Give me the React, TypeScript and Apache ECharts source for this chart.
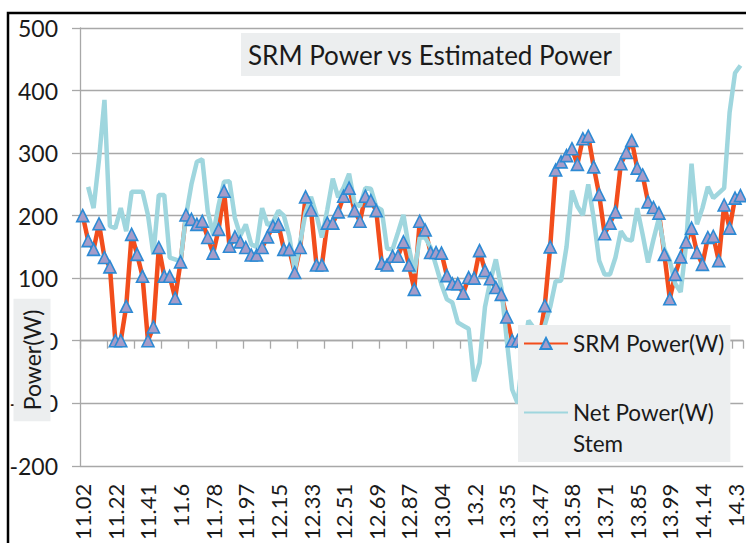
import { useEffect, useRef } from 'react';
import * as echarts from 'echarts';

const tickLabels = [
  '11.02', '11.22', '11.41', '11.6', '11.78', '11.97', '12.15', '12.33', '12.51', '12.69', '12.87',
  '13.04', '13.2', '13.35', '13.47', '13.58', '13.71', '13.85', '13.99', '14.14', '14.3',
];

const srmPower = [
  200, 160, 146, 187, 133, 118, 0, 0, 55, 170,
  138, 103, 0, 22, 149, 103, 103, 68, 126, 201,
  194, 186, 191, 165, 140, 178, 239, 151, 166, 158,
  149, 137, 137, 149, 166, 183, 186, 146, 146, 109,
  149, 230, 209, 121, 121, 188, 188, 206, 231, 244,
  208, 191, 231, 224, 208, 124, 121, 135, 135, 158,
  121, 82, 191, 177, 141, 141, 140, 104, 91, 91,
  76, 101, 100, 144, 112, 99, 85, 74, 38, 0,
  0, 0, 0, 0, 0, 56, 150, 273, 286, 296,
  307, 282, 323, 327, 278, 234, 171, 188, 206, 283,
  301, 320, 276, 265, 222, 213, 204, 138, 67, 106,
  134, 158, 180, 141, 122, 165, 167, 128, 217, 180,
  228, 232,
];

const netPower = [
  null, 246, 212, 290, 385, 183, 180, 212, 175, 238,
  238, 238, 201, 138, 233, 233, 133, 130, 127, 200,
  250, 286, 290, 207, 170, 217, 254, 255, 196, 168,
  186, 154, 150, 212, 185, 190, 208, 200, 167, 112,
  157, 205, 230, 201, 165, 210, 259, 229, 245, 267,
  220, 215, 244, 243, 214, 209, 147, 146, 173, 201,
  149, 108, 165, 165, 149, 120, 90, 66, 61, 29,
  24, 19, -65, -36, 54, 96, 130, 85, 2, -78,
  -100, -20, 32, 20, 10, 25, 54, 95, 96, 150,
  240, 215, 201, 250, 196, 128, 106, 106, 133, 175,
  162, 160, 212, 170, 125, 162, 196, 146, 128, 91,
  78, 154, 283, 186, 212, 246, 228, 236, 244, 365,
  428, 440,
];

const categories = srmPower.map((_, i) => String(i));

const FONT = 'Lato';
const TEXT = '#1a1a1a';
const GRID = '#a8a8a8';
const BOX = '#eceeef';

export default function App() {
  const ref = useRef<HTMLDivElement>(null);

  useEffect(() => {
    const chart = echarts.init(ref.current!, null, { renderer: 'svg' });
    chart.setOption({
      animation: false,
      textStyle: { fontFamily: FONT },
      title: {
        text: 'SRM Power vs Estimated Power',
        left: 241,
        top: 33,
        backgroundColor: BOX,
        padding: [8, 7, 8, 7],
        textStyle: { fontSize: 26, fontWeight: 'normal', color: TEXT, fontFamily: FONT, lineHeight: 27 },
      },
      legend: {
        orient: 'vertical',
        left: 518,
        top: 325,
        backgroundColor: BOX,
        padding: [3, 6, 3, 5],
        itemWidth: 44,
        itemHeight: 14,
        itemGap: 7,
        textStyle: { fontSize: 22.5, lineHeight: 31, color: TEXT, fontFamily: FONT },
        formatter: (name: string) => (name.indexOf(' Stem') >= 0 ? '\n' + name.replace(' Stem', '\nStem') : name),
        data: [
          { name: 'SRM Power(W)' },
          { name: 'Net Power(W) Stem', itemStyle: { opacity: 0 } },
        ],
      },
      grid: { left: 80, right: -5, top: 28, bottom: 73 },
      xAxis: [
        {
          type: 'category',
          data: categories,
          boundaryGap: true,
          position: 'bottom',
          axisLine: { show: true, onZero: true, lineStyle: { color: GRID, width: 1.3 } },
          axisTick: { show: true, interval: 4, length: 8, lineStyle: { color: GRID, width: 1.3 } },
          axisLabel: { show: false },
          splitLine: { show: false },
        },
        {
          type: 'category',
          data: categories,
          boundaryGap: true,
          position: 'bottom',
          axisLine: { show: false, onZero: false },
          axisTick: { show: false },
          splitLine: { show: false },
          axisLabel: {
            show: true,
            interval: 5,
            rotate: 90,
            margin: 18,
            fontSize: 22,
            color: TEXT,
            fontFamily: FONT,
            formatter: (_v: string, i: number) => (i % 6 === 0 ? tickLabels[i / 6] ?? '' : ''),
          },
        },
      ],
      yAxis: {
        type: 'value',
        min: -200,
        max: 500,
        interval: 100,
        axisLine: { show: true, lineStyle: { color: GRID, width: 1.3 } },
        axisTick: { show: true, length: 8, lineStyle: { color: GRID, width: 1.3 } },
        splitLine: { show: true, lineStyle: { color: GRID, width: 1.3 } },
        axisLabel: { fontSize: 23, margin: 22, color: TEXT, fontFamily: FONT },
      },
      graphic: [
        {
          type: 'text',
          x: 32,
          y: 360,
          rotation: Math.PI / 2,
          z: 100,
          style: {
            text: 'Power(W)',
            fontSize: 23,
            fontFamily: FONT,
            fill: TEXT,
            align: 'center',
            verticalAlign: 'middle',
            backgroundColor: BOX,
            padding: [7, 11, 7, 11],
          },
        },
        {
          type: 'rect',
          z: 100,
          silent: true,
          shape: { x: 8, y: 13, width: 800, height: 600 },
          style: { fill: 'none', stroke: '#000', lineWidth: 2.5 },
        },
      ],
      series: [
        {
          name: 'SRM Power(W)',
          type: 'line',
          xAxisIndex: 0,
          data: srmPower,
          symbol: 'triangle',
          symbolSize: 12,
          showAllSymbol: true,
          lineStyle: { color: '#f24d1c', width: 4.5 },
          itemStyle: { color: '#a59cc9', borderColor: '#2d8ad4', borderWidth: 1.6 },
        },
        {
          name: 'Net Power(W) Stem',
          type: 'line',
          xAxisIndex: 0,
          data: netPower,
          symbol: 'none',
          showSymbol: false,
          lineStyle: { color: '#9fd6de', width: 4.5 },
          itemStyle: { color: '#9fd6de' },
        },
      ],
    });
    return () => chart.dispose();
  }, []);

  return (
    <div
      ref={ref}
      style={{ position: 'fixed', left: 0, top: 0, width: 746, height: 543, background: '#fff' }}
    />
  );
}
